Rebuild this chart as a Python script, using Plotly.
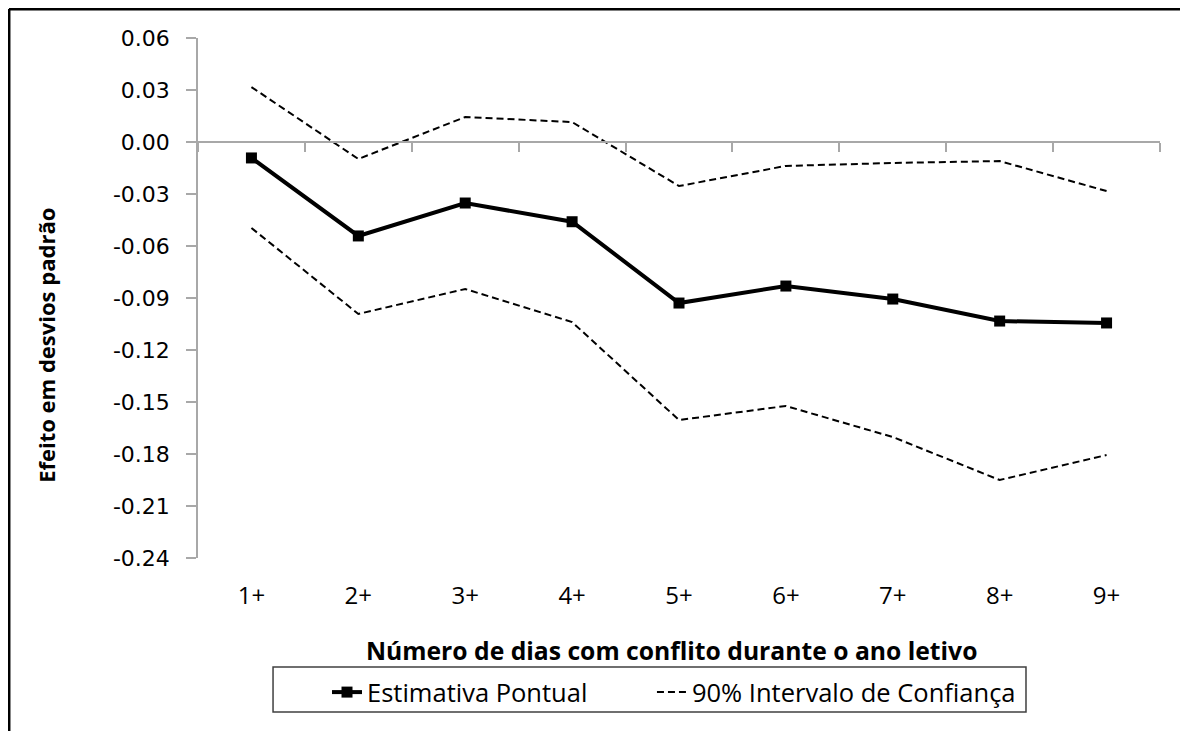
import plotly.graph_objects as go

categories = ["1+", "2+", "3+", "4+", "5+", "6+", "7+", "8+", "9+"]
estimate = [-0.0092, -0.0542, -0.0352, -0.0460, -0.0929, -0.0831, -0.0906, -0.1033, -0.1044]
upper_ci = [0.0317, -0.0098, 0.0144, 0.0115, -0.0254, -0.0138, -0.0121, -0.0110, -0.0283]
lower_ci = [-0.0496, -0.0992, -0.0848, -0.1039, -0.1604, -0.1523, -0.1702, -0.1950, -0.1806]
y_ticks = [0.06, 0.03, 0.00, -0.03, -0.06, -0.09, -0.12, -0.15, -0.18, -0.21, -0.24]
y_tick_labels = [f"{v:.2f}" for v in y_ticks]

FONT = "'Open Sans', Lato, sans-serif"
NUMFONT = "'DejaVu Sans', Verdana, sans-serif"
GRAY = "#a8a8a8"
NBSP = "\u00a0"

fig = go.Figure()

fig.add_trace(go.Scatter(
    x=categories, y=estimate, mode="lines+markers", name="Estimativa Pontual" + NBSP * 9,
    line=dict(color="black", width=4), marker=dict(symbol="square", size=11, color="black"),
))
fig.add_trace(go.Scatter(
    x=categories, y=upper_ci, mode="lines", name="90% Intervalo de Confiança",
    line=dict(color="black", width=2, dash="7px,4px"), legendgroup="ci",
))
fig.add_trace(go.Scatter(
    x=categories, y=lower_ci, mode="lines", name="90% Intervalo de Confiança",
    line=dict(color="black", width=2, dash="7px,4px"), legendgroup="ci", showlegend=False,
))
# invisible trace to carry the zero-line category axis
fig.add_trace(go.Scatter(
    x=categories, y=[0] * len(categories), xaxis="x2", mode="lines",
    line=dict(color="rgba(0,0,0,0)"), showlegend=False, hoverinfo="skip",
))

fig.update_layout(
    width=1180, height=723,
    margin=dict(l=190, r=28, t=30, b=173),
    paper_bgcolor="white", plot_bgcolor="white",
    showlegend=True,
    xaxis=dict(
        type="category", categoryorder="array", categoryarray=categories,
        range=[-0.5, len(categories) - 0.5],
        showline=False, showgrid=False, zeroline=False,
        ticks="outside", ticklen=16, tickcolor="rgba(0,0,0,0)",
        tickfont=dict(family=FONT, size=24, color="black"),
    ),
    xaxis2=dict(
        type="category", categoryorder="array", categoryarray=categories,
        range=[-0.5, len(categories) - 0.5],
        overlaying="x", anchor="free", position=0.8,
        showline=True, linecolor=GRAY, linewidth=1.5,
        ticks="outside", tickson="boundaries", ticklen=9, tickcolor=GRAY, tickwidth=1.5,
        showticklabels=False, showgrid=False, zeroline=False,
    ),
    yaxis=dict(
        range=[-0.24, 0.06], tickvals=y_ticks, ticktext=y_tick_labels,
        showline=True, linecolor=GRAY, linewidth=1.5,
        ticks="outside", ticklen=10, tickcolor=GRAY, tickwidth=1.5,
        ticklabelstandoff=12,
        showgrid=False, zeroline=False,
        tickfont=dict(family=NUMFONT, size=22, color="black"),
    ),
    legend=dict(
        orientation="h", x=0.1341, y=-0.2135, xanchor="left", yanchor="top",
        borderwidth=0, bgcolor="rgba(0,0,0,0)",
        font=dict(family=FONT, size=25.5, color="black"),
        tracegroupgap=0,
    ),
    annotations=[
        dict(text="<b>Número de dias com conflito durante o ano letivo</b>",
             xref="paper", yref="paper", x=0.4927, y=-0.177, showarrow=False,
             xanchor="center", yanchor="middle",
             font=dict(family=FONT, size=24.7, color="black")),
        dict(text="<b>Efeito em desvios padrão</b>", textangle=-90,
             xref="paper", yref="paper", x=-0.158, y=0.408, showarrow=False,
             xanchor="center", yanchor="middle",
             font=dict(family=FONT, size=22, color="black")),
    ],
    shapes=[
        # legend frame
        dict(type="rect", xref="paper", yref="paper", x0=0.078, x1=0.8607, y0=-0.2096, y1=-0.2962,
             line=dict(color="#404040", width=1.5), layer="below"),
        # outer chart border (left and top)
        dict(type="line", xref="paper", yref="paper", x0=-0.1965, x1=-0.1965, y0=1.0558, y1=-0.34,
             line=dict(color="black", width=3)),
        dict(type="line", xref="paper", yref="paper", x0=-0.1965, x1=1.04, y0=1.0558, y1=1.0558,
             line=dict(color="black", width=3)),
    ],
)

fig.write_html("out.html")
